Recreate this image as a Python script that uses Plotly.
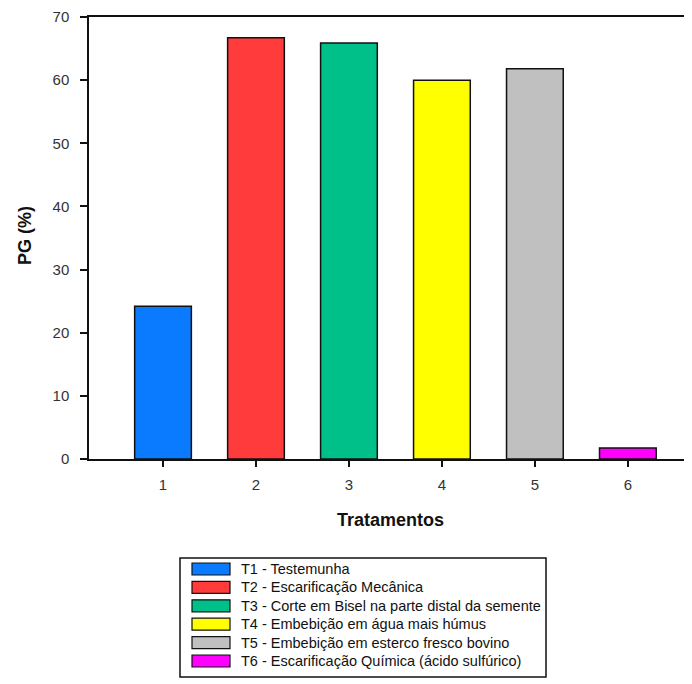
import plotly.graph_objects as go

categories = [1, 2, 3, 4, 5, 6]
values = [24.2, 66.7, 65.9, 60.0, 61.8, 1.75]
colors = ["#0a7aff", "#ff3b3b", "#00c08a", "#ffff00", "#c0c0c0", "#ff00ff"]
legend_labels = [
    "T1 - Testemunha",
    "T2 - Escarificação Mecânica",
    "T3 - Corte em Bisel na parte distal da semente",
    "T4 - Embebição em água mais húmus",
    "T5 - Embebição em esterco fresco bovino",
    "T6 - Escarificação Química (ácido sulfúrico)",
]
y_ticks = [0, 10, 20, 30, 40, 50, 60, 70]

OFF = 8  # page body margin
W, H = 684, 676
L, R, T, B = 81, 0, 9, 225
PW, PH = W - L - R, H - T - B

def px(x):
    return (x - OFF - L) / PW

def py(y):
    return (H - B - (y - OFF)) / PH

fig = go.Figure()
fig.add_trace(go.Bar(
    x=categories, y=values, width=0.61,
    marker=dict(color=colors, line=dict(color="#111111", width=1.5)),
    showlegend=False,
))

font = "Liberation Sans, Arial, sans-serif"
fig.update_layout(
    width=W, height=H,
    margin=dict(l=L, r=R, t=T, b=B),
    paper_bgcolor="white", plot_bgcolor="white",
    font=dict(family=font, size=12, color="#222"),
    xaxis=dict(
        range=[0.204, 6.69], tickvals=categories, ticks="outside", ticklen=6,
        tickwidth=1.5, tickcolor="#111", showline=True, linecolor="#111",
        linewidth=1.5, mirror=True, showgrid=False, zeroline=False,
        tickfont=dict(size=15, color="#333"), ticklabelstandoff=5,
    ),
    yaxis=dict(
        range=[0, 70], tickvals=y_ticks, ticks="outside", ticklen=7,
        tickwidth=1.5, tickcolor="#111", showline=True, linecolor="#111",
        linewidth=1.5, showgrid=False, zeroline=False,
        tickfont=dict(size=15, color="#333"), ticklabelstandoff=8,
    ),
)

annotations = [
    dict(text="<b>PG (%)</b>", x=px(25), y=py(236), xref="paper", yref="paper",
         textangle=-90, showarrow=False, font=dict(size=18, color="#111"),
         xanchor="center", yanchor="middle"),
    dict(text="<b>Tratamentos</b>", x=px(390), y=py(520), xref="paper", yref="paper",
         showarrow=False, font=dict(size=18, color="#111"),
         xanchor="center", yanchor="middle"),
]
shapes = [
    dict(type="rect", xref="paper", yref="paper", x0=px(180), x1=px(546),
         y0=py(558), y1=py(677), line=dict(color="#111", width=1.5),
         fillcolor="white", layer="below"),
]
row0, step = 569, 18.4
for i, (lab, col) in enumerate(zip(legend_labels, colors)):
    cy = row0 + i * step
    shapes.append(dict(type="rect", xref="paper", yref="paper",
                       x0=px(192), x1=px(230), y0=py(cy - 6), y1=py(cy + 6),
                       fillcolor=col, line=dict(color="#111", width=1.2)))
    annotations.append(dict(text=lab, x=px(239), y=py(cy), xref="paper", yref="paper",
                            showarrow=False, xanchor="left", yanchor="middle",
                            font=dict(size=14.5, color="#111")))
fig.update_layout(annotations=annotations, shapes=shapes)

fig.write_html("out.html")
